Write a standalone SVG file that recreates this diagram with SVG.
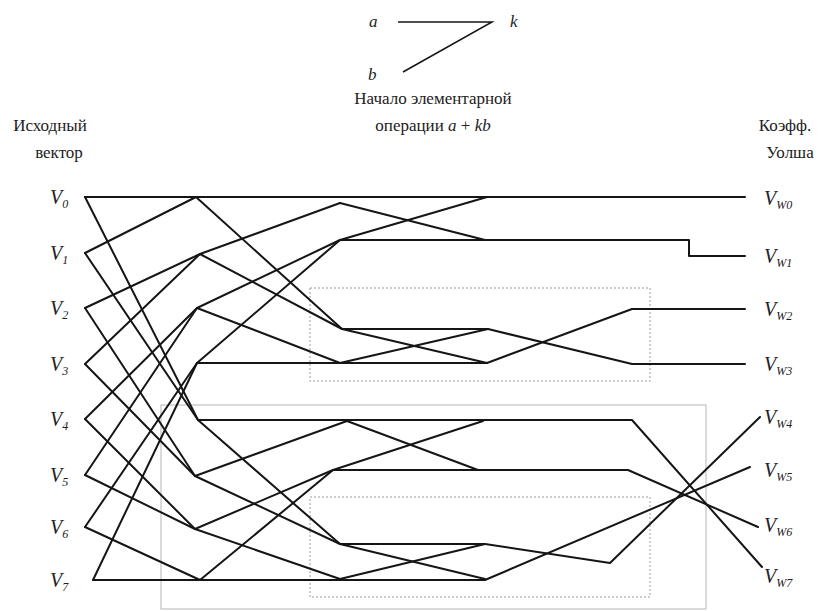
<svg xmlns="http://www.w3.org/2000/svg" width="823" height="611" viewBox="0 0 823 611">
<style>
.bg{fill:#fff}
.t{font-family:"Liberation Serif","Times New Roman",serif;font-size:17px;fill:#222}
.it{font-family:"Liberation Serif","Times New Roman",serif;font-style:italic;fill:#222}
.v{font-size:20px}
.s{font-size:12px}
.ln{stroke:#151515;stroke-width:2;fill:none;stroke-linejoin:round;stroke-linecap:round}
.thin{stroke:#151515;stroke-width:1.5;fill:none}
.box{stroke:#9a9a9a;stroke-width:1;fill:none;stroke-dasharray:2 2}
.obox{stroke:#b5b5b5;stroke-width:1;fill:none}
</style>
<rect class="bg" x="0" y="0" width="823" height="611"/>

<g id="legend">
<text class="it" x="369" y="27" font-size="17">a</text>
<text class="it" x="510" y="27" font-size="17">k</text>
<text class="it" x="368" y="80" font-size="17">b</text>
<path class="thin" d="M398,22 H492 L403,72"/>
</g>

<g id="titles">
<text class="t" x="433" y="104" text-anchor="middle">Начало элементарной</text>
<text class="t" x="433" y="131" text-anchor="middle">операции <tspan font-style="italic">a</tspan> + <tspan font-style="italic">kb</tspan></text>
<text class="t" x="50" y="131" text-anchor="middle">Исходный</text>
<text class="t" x="59" y="158" text-anchor="middle">вектор</text>
<text class="t" x="785" y="131" text-anchor="middle">Коэфф.</text>
<text class="t" x="790" y="158" text-anchor="middle">Уолша</text>
</g>

<g id="boxes">
<rect class="obox" x="161" y="405" width="545" height="204"/>
<rect class="box" x="310" y="288" width="340" height="93"/>
<rect class="box" x="310" y="497" width="340" height="100"/>
</g>

<g id="inputs">
<g id="in0"><text class="it v" x="50" y="204">V<tspan class="s" dy="4">0</tspan></text></g>
<g id="in1"><text class="it v" x="50" y="260">V<tspan class="s" dy="4">1</tspan></text></g>
<g id="in2"><text class="it v" x="50" y="315">V<tspan class="s" dy="4">2</tspan></text></g>
<g id="in3"><text class="it v" x="50" y="371">V<tspan class="s" dy="4">3</tspan></text></g>
<g id="in4"><text class="it v" x="50" y="426">V<tspan class="s" dy="4">4</tspan></text></g>
<g id="in5"><text class="it v" x="50" y="482">V<tspan class="s" dy="4">5</tspan></text></g>
<g id="in6"><text class="it v" x="50" y="534">V<tspan class="s" dy="4">6</tspan></text></g>
<g id="in7"><text class="it v" x="50" y="587">V<tspan class="s" dy="4">7</tspan></text></g>
</g>

<g id="outputs">
<g id="out0"><text class="it v" x="764" y="205">V<tspan class="s" dy="4">W0</tspan></text></g>
<g id="out1"><text class="it v" x="764" y="263">V<tspan class="s" dy="4">W1</tspan></text></g>
<g id="out2"><text class="it v" x="764" y="316">V<tspan class="s" dy="4">W2</tspan></text></g>
<g id="out3"><text class="it v" x="764" y="371">V<tspan class="s" dy="4">W3</tspan></text></g>
<g id="out4"><text class="it v" x="764" y="424">V<tspan class="s" dy="4">W4</tspan></text></g>
<g id="out5"><text class="it v" x="764" y="477">V<tspan class="s" dy="4">W5</tspan></text></g>
<g id="out6"><text class="it v" x="764" y="532">V<tspan class="s" dy="4">W6</tspan></text></g>
<g id="out7"><text class="it v" x="764" y="583">V<tspan class="s" dy="4">W7</tspan></text></g>
</g>

<g id="connectors">
<!-- horizontals -->
<path class="ln" d="M85,197 H745"/>
<path class="ln" d="M340,240 H689 V256 H745"/>
<path class="ln" d="M342,329 H488"/>
<path class="ln" d="M197,363 H487"/>
<path class="ln" d="M198,420 H632 L762,567"/>
<path class="ln" d="M333,470 H628 L758,527"/>
<path class="ln" d="M340,544 H485 L610,563 L760,417"/>
<path class="ln" d="M93,580 H485 L750,467"/>
<!-- stage 1 -->
<path class="ln" d="M85,253 L196,197"/>
<path class="ln" d="M85,197 L198,420"/>
<path class="ln" d="M85,253 L198,420"/>
<path class="ln" d="M85,308 L200,254"/>
<path class="ln" d="M85,364 L200,254"/>
<path class="ln" d="M85,308 L195,476"/>
<path class="ln" d="M85,364 L195,476"/>
<path class="ln" d="M85,419 L197,308"/>
<path class="ln" d="M85,475 L197,308"/>
<path class="ln" d="M85,419 L195,529"/>
<path class="ln" d="M85,475 L195,529"/>
<path class="ln" d="M85,527 L197,363"/>
<path class="ln" d="M93,580 L197,363"/>
<path class="ln" d="M85,527 L200,580"/>
<!-- stage 2 -->
<path class="ln" d="M200,254 L340,203"/>
<path class="ln" d="M197,308 L340,240"/>
<path class="ln" d="M197,363 L340,240"/>
<path class="ln" d="M196,197 L342,329"/>
<path class="ln" d="M200,254 L342,329"/>
<path class="ln" d="M197,308 L340,363"/>
<path class="ln" d="M195,476 L347,421"/>
<path class="ln" d="M195,529 L333,470"/>
<path class="ln" d="M200,580 L333,470"/>
<path class="ln" d="M198,420 L340,544"/>
<path class="ln" d="M195,476 L340,544"/>
<path class="ln" d="M195,529 L340,579"/>
<!-- stage 3 -->
<path class="ln" d="M340,240 L487,197"/>
<path class="ln" d="M340,203 L485,240"/>
<path class="ln" d="M342,329 L487,363"/>
<path class="ln" d="M340,363 L488,329"/>
<path class="ln" d="M347,421 L478,470"/>
<path class="ln" d="M333,470 L483,421"/>
<path class="ln" d="M340,544 L485,579"/>
<path class="ln" d="M340,579 L485,544"/>
<!-- stage 4 -->
<path class="ln" d="M488,329 L632,364 H745"/>
<path class="ln" d="M487,363 L632,309 H745"/>
</g>
</svg>
